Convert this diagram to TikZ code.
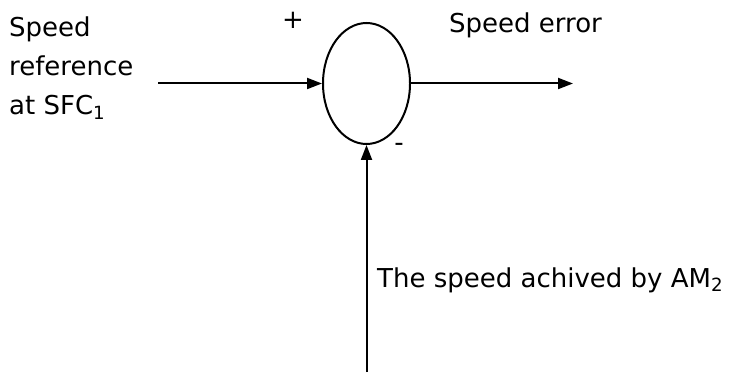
\documentclass[tikz,border=0pt]{standalone}
\usepackage{fontspec}
\setmainfont{DejaVu Sans}
\usetikzlibrary{arrows.meta, positioning, shapes.geometric}

\tikzset{
  sig/.style={line width=2pt, -{Triangle[length=15pt, width=11pt]}},
  lbl/.style={font=\fontsize{26}{39}\selectfont, anchor=base west, inner sep=0pt, align=left},
}

\begin{document}
\begin{tikzpicture}[x=1pt, y=1pt]
				\useasboundingbox (0,0) rectangle (730,-374);

				% Summing junction
				\node[ellipse, draw, line width=2pt, minimum width=87pt, minimum height=121pt, inner sep=0pt] (sum) at (366.5,-83.5) {};

				\coordinate (in) at (sum.west -| 158,0);
				\coordinate (out) at (sum.east -| 573,0);
				\coordinate (fb) at (sum.south |- 0,-372);

				\draw[sig] (in) -- (sum.west);
				\draw[sig] (sum.east) -- (out);
				\draw[sig] (fb) -- (sum.south);

				% Labels
				\node[lbl] (ref) at (9,-115) {Speed\\reference\\at SFC\textsubscript{1}};
				\node[lbl] (err) at (449,-33) {Speed error};
				\node[lbl] (act) at (377,-287) {The speed achived by AM\textsubscript{2}};
				\node[font=\fontsize{26}{30}\selectfont, inner sep=0pt] (plus) at (293,-20) {+};
				\node[font=\fontsize{26}{30}\selectfont, inner sep=0pt] (minus) at (399,-147) {-};
			\end{tikzpicture}
\end{document}
